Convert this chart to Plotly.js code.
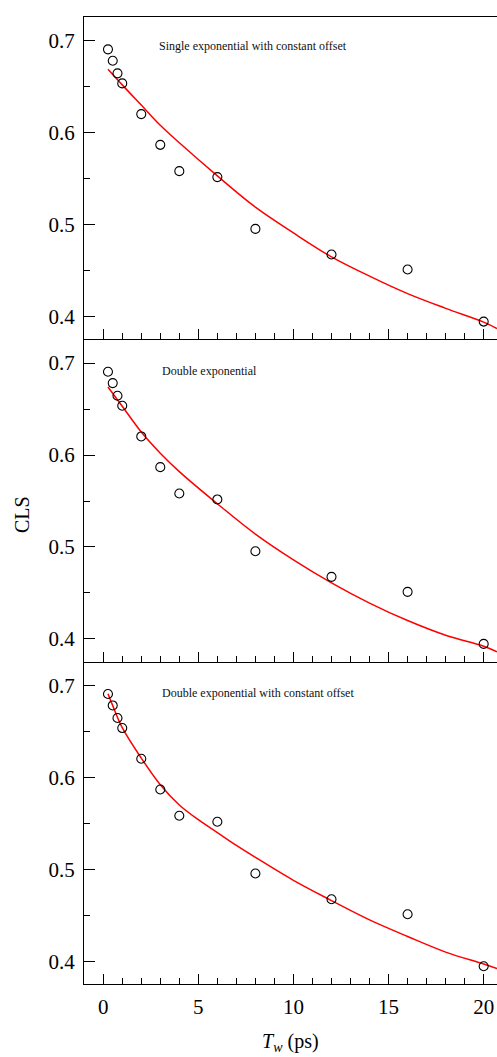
<!DOCTYPE html>
<html>
<head>
<meta charset="utf-8">
<script src="https://cdn.plot.ly/plotly-3.0.1.min.js"></script>
<style>html,body{margin:0;padding:0;background:#fff;}#chart{width:497px;height:1057px;}</style>
</head>
<body>
<div id="chart"></div>
<script>
// Measured data (same in all three panels)
const tw = [0.25, 0.5, 0.75, 1, 2, 3, 4, 6, 8, 12, 16, 20];
const cls = [0.6906, 0.6782, 0.6645, 0.6536, 0.6202, 0.5868, 0.5582, 0.5517, 0.4954, 0.4675, 0.4512, 0.3946];

// Fit curves
const fitX1 = [0.25, 1, 2, 3, 4, 6, 8, 10, 12, 14, 16, 18, 20, 20.7];
const fitSingleOffset = [0.669, 0.652, 0.630, 0.608, 0.589, 0.553, 0.519, 0.491, 0.465, 0.444, 0.425, 0.409, 0.394, 0.387];
const fitX2 = [0.25, 1, 2, 3, 4, 6, 8, 10, 12, 14, 16, 18, 20, 20.7];
const fitDouble = [0.674, 0.653, 0.625, 0.602, 0.582, 0.547, 0.514, 0.486, 0.461, 0.439, 0.420, 0.404, 0.392, 0.386];
const fitX3 = [0.25, 0.5, 1, 2, 3, 4, 5, 6, 7, 8, 10, 12, 14, 16, 18, 20, 20.7];
const fitDoubleOffset = [0.691, 0.678, 0.654, 0.621, 0.592, 0.570, 0.554, 0.540, 0.526, 0.513, 0.488, 0.466, 0.445, 0.427, 0.410, 0.397, 0.392];

const panelLabels = ["Single exponential with constant offset", "Double exponential", "Double exponential with constant offset"];
const xTickVals = [0, 5, 10, 15, 20];
const yTickVals = [0.4, 0.5, 0.6, 0.7];

const FONT = "Liberation Serif, Times New Roman, serif";
const fits = [[fitX1, fitSingleOffset], [fitX2, fitDouble], [fitX3, fitDoubleOffset]];
const axNames = [["x", "y"], ["x2", "y2"], ["x3", "y3"]];

const traces = [];
for (let i = 0; i < 3; i++) {
  traces.push({x: fits[i][0], y: fits[i][1], xaxis: axNames[i][0], yaxis: axNames[i][1],
    mode: "lines", line: {color: "#ff0000", width: 1.5, shape: "spline", smoothing: 1}, hoverinfo: "skip"});
  traces.push({x: tw, y: cls, xaxis: axNames[i][0], yaxis: axNames[i][1], mode: "markers",
    marker: {symbol: "circle-open", size: 9, color: "#000", line: {width: 1.1, color: "#000"}}});
}

function xax(anchor, labels, mirror) {
  return {
    anchor: anchor, range: [-1.01, 20.7], tickvals: xTickVals, ticktext: xTickVals.map(String),
    ticks: "inside", ticklen: 10, tickwidth: 1, tickcolor: "#000",
    minor: {dtick: 1, tick0: 0, ticks: "inside", ticklen: 6, tickwidth: 1, tickcolor: "#000"},
    showticklabels: labels, showline: true, linecolor: "#000", linewidth: 1, mirror: mirror,
    showgrid: false, zeroline: false, tickfont: {family: FONT, size: 21, color: "#000"},
    ticklabelstandoff: 4, fixedrange: true
  };
}
function yax(domain, anchor) {
  return {
    domain: domain, anchor: anchor, range: [0.3753, 0.7258], tickvals: yTickVals, ticktext: yTickVals.map(v => v.toFixed(1)),
    ticks: "inside", ticklen: 11, tickwidth: 1, tickcolor: "#000",
    minor: {dtick: 0.05, tick0: 0.4, ticks: "inside", ticklen: 6, tickwidth: 1, tickcolor: "#000"},
    showline: true, linecolor: "#000", linewidth: 1, showgrid: false, zeroline: false,
    tickfont: {family: FONT, size: 21, color: "#000"}, ticklabelstandoff: 4, fixedrange: true
  };
}

const annY = [0.970, 0.6342, 0.3006];
const annotations = panelLabels.map((t, i) => ({
  text: t, xref: "paper", yref: "paper", x: i === 0 ? 0.1775 : 0.184, y: annY[i],
  xanchor: "left", yanchor: "middle", showarrow: false, font: {family: FONT, size: 12, color: "#111"}
}));
annotations.push({text: "CLS", xref: "paper", yref: "paper", x: -0.150, y: 0.485, textangle: -90,
  xanchor: "center", yanchor: "middle", showarrow: false, font: {family: FONT, size: 20, color: "#000"}});
annotations.push({text: "<i>T</i><sub><i>w</i></sub> (ps)", xref: "paper", yref: "paper", x: 0.5, y: -0.061,
  xanchor: "center", yanchor: "middle", showarrow: false, font: {family: FONT, size: 20, color: "#000"}});

const layout = {
  width: 497, height: 1057, margin: {l: 84, r: 0, t: 17, b: 73},
  paper_bgcolor: "#fff", plot_bgcolor: "#fff", showlegend: false,
  xaxis: xax("y", false, true),
  xaxis2: xax("y2", false, false),
  xaxis3: xax("y3", true, false),
  yaxis: yax([2/3, 1], "x"),
  yaxis2: yax([1/3, 2/3], "x2"),
  yaxis3: yax([0, 1/3], "x3"),
  annotations: annotations
};
Plotly.newPlot("chart", traces, layout, {displayModeBar: false, staticPlot: true});
</script>
</body>
</html>
